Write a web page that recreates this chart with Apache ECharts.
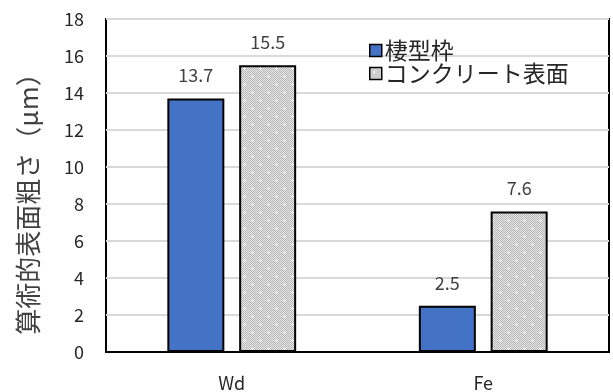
<!DOCTYPE html>
<html>
<head>
<meta charset="utf-8">
<script src="https://cdn.jsdelivr.net/npm/echarts@6/dist/echarts.min.js"></script>
<style>
  html, body { margin: 0; padding: 0; background: #fff; }
  #chart { width: 613px; height: 392px; }
</style>
</head>
<body>
<div id="chart"></div>
<script>
// データ
const categories = ['Wd', 'Fe']
const seriesNames = ['棲型枠', 'コンクリート表面']
const formworkValues = [13.7, 2.5]
const concreteValues = [15.5, 7.6]
const yAxisName = '算術的表面粗さ（μm）'

const font = '"Noto Sans CJK JP", "Noto Sans", sans-serif'

// 灰色の網点パターン
function makePattern() {
  const c = document.createElement('canvas')
  c.width = 16
  c.height = 16
  const ctx = c.getContext('2d')
  for (let y = 0; y < 16; y++) {
    for (let x = 0; x < 16; x++) {
      ctx.fillStyle = (x + y) % 2 === 0 ? '#b8b8b8' : '#e6e6e6'
      ctx.fillRect(x, y, 1, 1)
    }
  }
  ctx.fillStyle = '#ffffff'
  const dots = [[4, 4], [12, 12]]
  dots.forEach(([x, y]) => {
    ctx.fillRect(x - 1, y, 3, 1)
    ctx.fillRect(x, y - 1, 1, 3)
  })
  return c
}

const chart = echarts.init(document.getElementById('chart'))

const labelStyle = {
  show: true,
  position: 'top',
  distance: 14,
  fontSize: 18,
  color: '#404040',
  fontFamily: font
}

chart.setOption({
  animation: false,
  grid: {
    left: 106, right: 4, top: 19, bottom: 39,
    show: true,
    borderColor: '#000',
    borderWidth: 2,
    containLabel: false
  },
  legend: {
    data: seriesNames,
    orient: 'vertical',
    left: 364,
    top: 34,
    itemGap: 0,
    itemWidth: 12,
    itemHeight: 12,
    icon: 'rect',
    itemStyle: { borderColor: '#000', borderWidth: 1.5 },
    textStyle: { fontSize: 23, color: '#262626', fontFamily: font, padding: [0, 0, 0, -2] }
  },
  xAxis: {
    type: 'category',
    data: categories,
    axisLine: { show: true, lineStyle: { color: '#000', width: 2 } },
    axisTick: { show: false },
    axisLabel: { fontSize: 18, color: '#262626', margin: 22, fontFamily: font }
  },
  yAxis: {
    type: 'value',
    min: 0,
    max: 18,
    interval: 2,
    name: yAxisName,
    nameLocation: 'middle',
    nameGap: 65,
    nameTextStyle: { fontSize: 26, color: '#404040', fontFamily: font, padding: [0, 24, 0, 0] },
    axisLine: { show: false },
    axisTick: { show: false },
    axisLabel: { fontSize: 18, color: '#262626', margin: 22, fontFamily: font },
    splitLine: { lineStyle: { color: '#d9d9d9', width: 2 } }
  },
  series: [
    {
      name: seriesNames[0],
      type: 'bar',
      data: formworkValues,
      barWidth: 57,
      barGap: '26%',
      itemStyle: { color: '#4472c4', borderColor: '#000', borderWidth: 2 },
      label: labelStyle
    },
    {
      name: seriesNames[1],
      type: 'bar',
      data: concreteValues,
      barWidth: 57,
      itemStyle: {
        color: { image: makePattern(), repeat: 'repeat' },
        borderColor: '#000',
        borderWidth: 2
      },
      label: labelStyle
    }
  ]
})
</script>
</body>
</html>
